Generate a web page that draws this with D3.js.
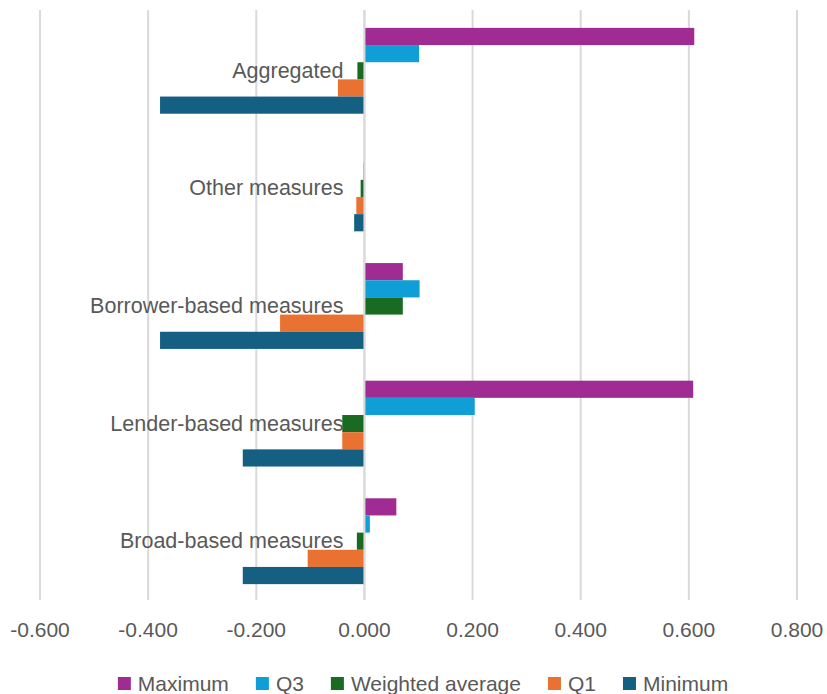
<!DOCTYPE html>
<html>
<head>
<meta charset="utf-8">
<script src="https://cdn.jsdelivr.net/npm/d3@7"></script>
<style>
  html, body { margin: 0; padding: 0; background: #ffffff; }
  svg text { font-family: "Liberation Sans", Arial, sans-serif; fill: #595959; }
</style>
</head>
<body>
<svg id="chart" width="827" height="694"></svg>
<script>
// Measure groups, listed top to bottom
const categories = ["Aggregated", "Other measures", "Borrower-based measures", "Lender-based measures", "Broad-based measures"];

// Series, in the order the bars are stacked inside each group (top to bottom)
const seriesNames = ["Maximum", "Q3", "Weighted average", "Q1", "Minimum"];
const maximum   = [0.610, 0.000, 0.071, 0.608, 0.059];
const q3        = [0.101, -0.002, 0.102, 0.204, 0.010];
const weighted  = [-0.013, -0.007, 0.071, -0.041, -0.014];
const q1        = [-0.049, -0.015, -0.156, -0.041, -0.105];
const minimum   = [-0.378, -0.019, -0.378, -0.225, -0.225];

const tickValues = [-0.6, -0.4, -0.2, 0, 0.2, 0.4, 0.6, 0.8];
const colors = ["#A02B93", "#0F9ED5", "#196B24", "#E97132", "#156082"];

const seriesValues = [maximum, q3, weighted, q1, minimum];

const svg = d3.select("#chart");
const plot = { left: 40, right: 797, top: 12, bottom: 600 };

const x = d3.scaleLinear().domain([-0.6, 0.8]).range([plot.left, plot.right]);
const y = d3.scaleBand().domain(categories).range([plot.top, plot.bottom])
  .paddingInner(0.27).paddingOuter(0.135);
const ySub = d3.scaleBand().domain(seriesNames).range([0, y.bandwidth()]);

const fmt = d3.formatLocale({ decimal: ".", thousands: ",", grouping: [3], currency: ["", ""], minus: "-" }).format(".3f");

// Vertical gridlines
svg.append("g")
  .selectAll("line")
  .data(tickValues)
  .join("line")
  .attr("x1", d => x(d)).attr("x2", d => x(d))
  .attr("y1", plot.top - 2).attr("y2", plot.bottom)
  .attr("stroke", "#d9d9d9")
  .attr("stroke-width", 2);

// Bars
const groups = svg.append("g")
  .selectAll("g")
  .data(categories)
  .join("g")
  .attr("transform", d => `translate(0,${y(d)})`);

groups.selectAll("rect")
  .data((c, i) => seriesNames.map((s, k) => ({ s, k, v: seriesValues[k][i] })))
  .join("rect")
  .attr("x", d => x(Math.min(0, d.v)))
  .attr("width", d => Math.abs(x(d.v) - x(0)))
  .attr("y", d => ySub(d.s))
  .attr("height", ySub.bandwidth())
  .attr("fill", d => colors[d.k]);

// Category axis line at zero
svg.append("line")
  .attr("x1", x(0)).attr("x2", x(0))
  .attr("y1", plot.top - 2).attr("y2", plot.bottom)
  .attr("stroke", "#d9d9d9")
  .attr("stroke-width", 2);

// Category labels, set beside the zero axis
svg.append("g")
  .selectAll("text")
  .data(categories)
  .join("text")
  .attr("x", x(0) - 21)
  .attr("y", d => y(d) + y.bandwidth() / 2 + 7)
  .attr("text-anchor", "end")
  .style("font-size", "21.5px")
  .text(d => d);

// Value axis tick labels
svg.append("g")
  .selectAll("text")
  .data(tickValues)
  .join("text")
  .attr("x", d => x(d))
  .attr("y", 637)
  .attr("text-anchor", "middle")
  .style("font-size", "21px")
  .text(d => fmt(d));

// Legend
const legend = svg.append("g");
const items = legend.selectAll("g")
  .data(seriesNames)
  .join("g");
items.append("rect")
  .attr("width", 13).attr("height", 13)
  .attr("y", 677)
  .attr("fill", (d, i) => colors[i]);
items.append("text")
  .attr("x", 20)
  .attr("y", 691)
  .style("font-size", "21px")
  .text(d => d);

let cursor = 0;
const offsets = [];
items.each(function () {
  const w = d3.select(this).select("text").node().getComputedTextLength();
  offsets.push(cursor);
  cursor += 20 + w + 27;
});
const totalWidth = cursor - 27;
const startX = 423 - totalWidth / 2;
items.attr("transform", (d, i) => `translate(${startX + offsets[i]},0)`);
</script>
</body>
</html>
